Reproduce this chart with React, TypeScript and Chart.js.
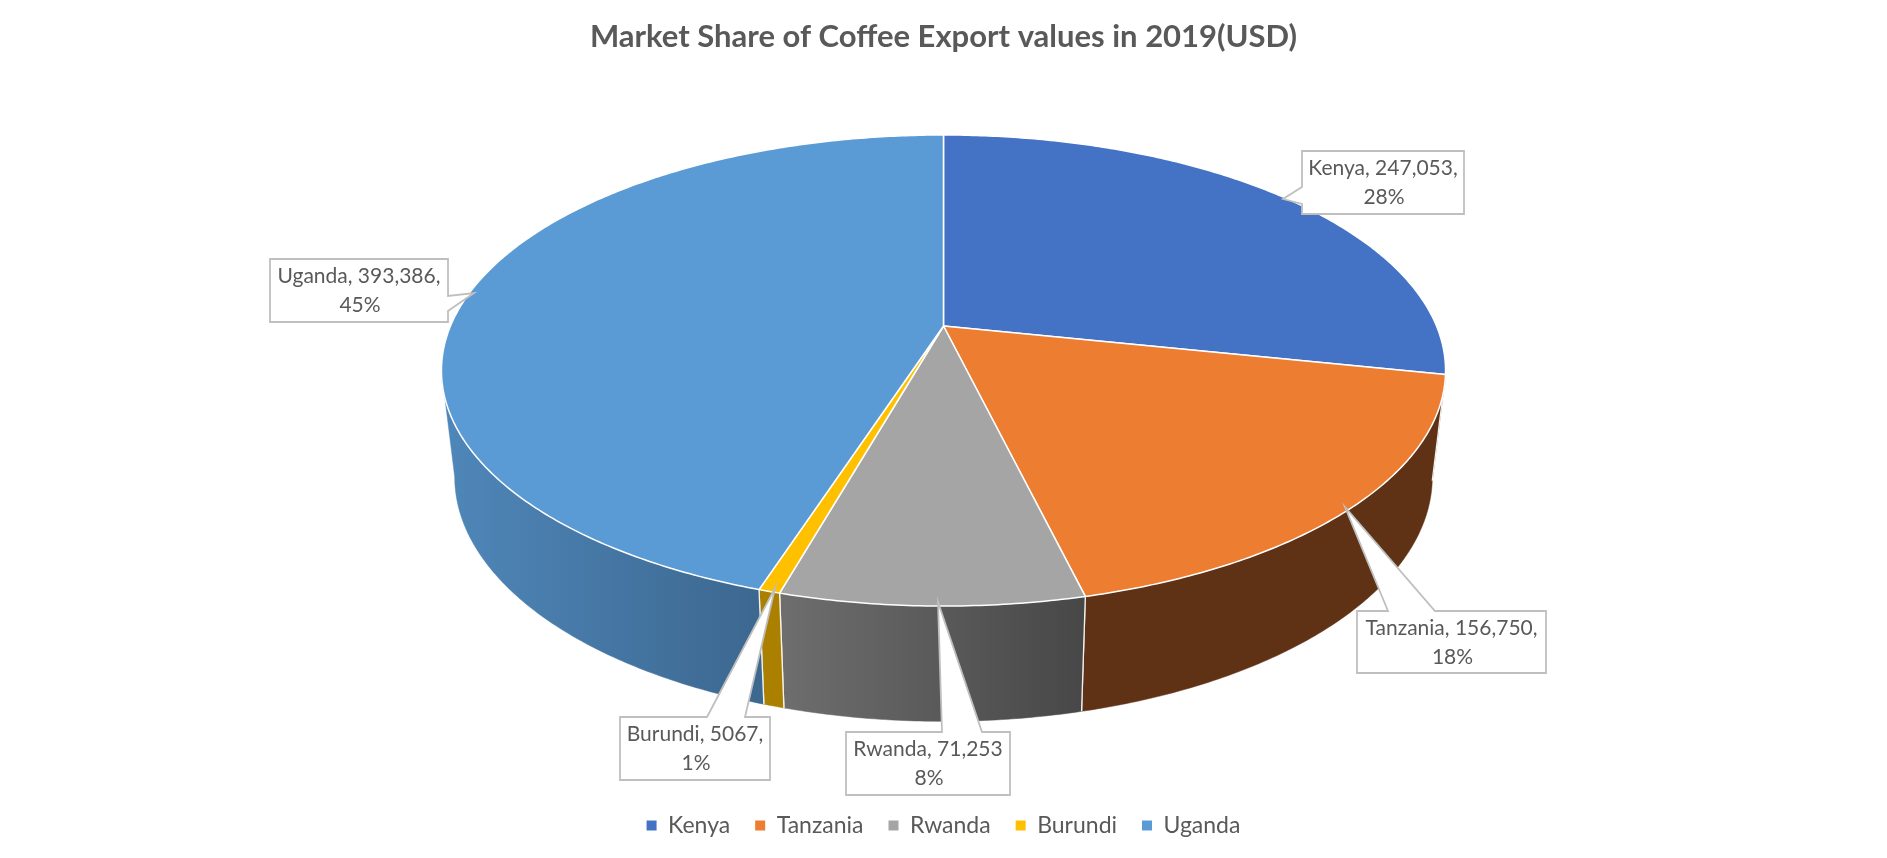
import React, { useEffect, useRef } from "react";
import { Chart, registerables } from "chart.js";

Chart.register(...registerables);

// ---- data ----
const categories = ["Kenya", "Tanzania", "Rwanda", "Burundi", "Uganda"];
const exportValues = [247053, 156750, 71253, 5067, 393386];
const valueTexts = ["247,053,", "156,750,", "71,253", "5067,", "393,386,"];
const chartTitle = "Market Share of Coffee Export values in 2019(USD)";

// ---- styles ----
const topColors = ["#4472C4", "#ED7D31", "#A5A5A5", "#FFC000", "#5B9BD5"];
const wallStops: string[][] = [
  ["#294477", "#294477"],
  ["#5F3115", "#5F3115"],
  ["#6E6E6E", "#474747"],
  ["#AB8000", "#AB8000"],
  ["#4F87BA", "#3C678F"],
];
const FONT = "Lato, Carlito, Calibri, sans-serif";
const TEXT = "#595959";

// perspective of the disc: top face and bottom face of the cylinder
const K = -0.189;
const topFace = { C: 493, A: 165.5, B: 326 };
const bottomFace = { C: 480, A: 154.5, B: 430.5 };
const TANGENT_V = 0.189;

// callout boxes: [x0, y0, x1, y1], pointer tip, and pointer base on one side
type Box = { r: number[]; tip: number[]; side: "l" | "r" | "t"; base: number[] };
const calloutBoxes: Box[] = [
  { r: [1302, 151, 1464, 214], tip: [1283, 199], side: "l", base: [187, 204] },
  { r: [1357, 611, 1546, 673], tip: [1345, 507], side: "t", base: [1388, 1435] },
  { r: [846, 732, 1010, 795], tip: [938, 602], side: "t", base: [942, 982] },
  { r: [620, 717, 770, 780], tip: [775, 588], side: "t", base: [707, 745] },
  { r: [270, 259, 448, 322], tip: [474, 293], side: "r", base: [296, 311] },
];

const project = (cx: number, a: number, f: typeof topFace) => {
  const u = Math.cos(a);
  const v = Math.sin(a);
  const w = 1 + K * v;
  return { x: cx + (f.C * u) / w, y: (f.A * v + f.B) / w };
};

const rim = (cx: number, a0: number, a1: number, f: typeof topFace) => {
  const n = Math.max(2, Math.ceil(Math.abs(a1 - a0) / 0.01));
  const pts = [];
  for (let i = 0; i <= n; i++) pts.push(project(cx, a0 + ((a1 - a0) * i) / n, f));
  return pts;
};

const cylinderPlugin = {
  id: "cylinderPie",
  beforeDatasetsDraw(chart: any) {
    const ctx: CanvasRenderingContext2D = chart.ctx;
    const arcs = chart.getDatasetMeta(0).data;
    const total = exportValues.reduce((s, v) => s + v, 0);
    const frontA0 = Math.asin(TANGENT_V);
    const frontA1 = Math.PI - frontA0;

    ctx.save();
    ctx.lineJoin = "round";

    // walls
    arcs.forEach((arc: any, i: number) => {
      const cx = arc.x;
      let a0 = arc.startAngle;
      let a1 = arc.endAngle;
      const twoPi = Math.PI * 2;
      while (a1 <= frontA0) { a0 += twoPi; a1 += twoPi; }
      const s = Math.max(a0, frontA0);
      const e = Math.min(a1, frontA1);
      if (e <= s) return;
      const t = rim(cx, s, e, topFace);
      const b = rim(cx, e, s, bottomFace);
      const xs = t.concat(b).map((p) => p.x);
      const g = ctx.createLinearGradient(Math.min(...xs), 0, Math.max(...xs), 0);
      g.addColorStop(0, wallStops[i][0]);
      g.addColorStop(1, wallStops[i][1]);
      ctx.beginPath();
      t.concat(b).forEach((p, k) => (k ? ctx.lineTo(p.x, p.y) : ctx.moveTo(p.x, p.y)));
      ctx.closePath();
      ctx.fillStyle = g;
      ctx.fill();
      ctx.strokeStyle = g;
      ctx.lineWidth = 0.5;
      ctx.stroke();
      // vertical edges
      ctx.strokeStyle = "rgba(255,255,255,0.9)";
      ctx.lineWidth = 1.3;
      if (a0 >= frontA0) {
        ctx.beginPath();
        ctx.moveTo(t[0].x, t[0].y);
        ctx.lineTo(b[b.length - 1].x, b[b.length - 1].y);
        ctx.stroke();
      }
      if (a1 <= frontA1) {
        ctx.beginPath();
        ctx.moveTo(t[t.length - 1].x, t[t.length - 1].y);
        ctx.lineTo(b[0].x, b[0].y);
        ctx.stroke();
      }
    });

    // top face
    arcs.forEach((arc: any, i: number) => {
      const pts = rim(arc.x, arc.startAngle, arc.endAngle, topFace);
      ctx.beginPath();
      ctx.moveTo(arc.x, topFace.B);
      pts.forEach((p) => ctx.lineTo(p.x, p.y));
      ctx.closePath();
      ctx.fillStyle = topColors[i];
      ctx.fill();
      ctx.strokeStyle = "#FFFFFF";
      ctx.lineWidth = 1.5;
      ctx.stroke();
    });

    // callouts
    arcs.forEach((_: any, i: number) => {
      const { r, tip, side, base } = calloutBoxes[i];
      const [x0, y0, x1, y1] = r;
      ctx.beginPath();
      ctx.moveTo(x0, y0);
      if (side === "t") {
        ctx.lineTo(base[0], y0);
        ctx.lineTo(tip[0], tip[1]);
        ctx.lineTo(base[1], y0);
      }
      ctx.lineTo(x1, y0);
      if (side === "r") {
        ctx.lineTo(x1, base[0]);
        ctx.lineTo(tip[0], tip[1]);
        ctx.lineTo(x1, base[1]);
      }
      ctx.lineTo(x1, y1);
      ctx.lineTo(x0, y1);
      if (side === "l") {
        ctx.lineTo(x0, base[1]);
        ctx.lineTo(tip[0], tip[1]);
        ctx.lineTo(x0, base[0]);
      }
      ctx.closePath();
      ctx.fillStyle = "#FFFFFF";
      ctx.fill();
      ctx.strokeStyle = "#BFBFBF";
      ctx.lineWidth = 1.8;
      ctx.lineJoin = "miter";
      ctx.stroke();

      const pct = Math.round((exportValues[i] / total) * 100) + "%";
      ctx.fillStyle = TEXT;
      ctx.font = `21px ${FONT}`;
      ctx.textAlign = "center";
      ctx.textBaseline = "middle";
      const mx = (x0 + x1) / 2;
      const my = (y0 + y1) / 2;
      ctx.fillText(`${categories[i]}, ${valueTexts[i]}`, mx, my - 14);
      ctx.fillText(pct, mx + 1, my + 15);
    });
    ctx.restore();
    return false;
  },
};

export default function App() {
  const ref = useRef<HTMLCanvasElement>(null);
  useEffect(() => {
    const chart = new Chart(ref.current as HTMLCanvasElement, {
      type: "pie",
      data: {
        labels: categories,
        datasets: [{ data: exportValues, backgroundColor: topColors, borderWidth: 0 }],
      },
      options: {
        responsive: false,
        animation: false,
        events: [],
        layout: { padding: { bottom: 11 } },
        plugins: {
          tooltip: { enabled: false },
          title: {
            display: true,
            text: chartTitle,
            color: TEXT,
            font: { family: FONT, size: 31, weight: "bold" },
            padding: { top: 18, bottom: 10 },
          },
          legend: {
            position: "bottom",
            labels: {
              color: TEXT,
              boxWidth: 10,
              boxHeight: 10,
              padding: 25,
              font: { family: FONT, size: 23 },
            },
          },
        },
      },
      plugins: [cylinderPlugin],
    } as any);
    return () => chart.destroy();
  }, []);
  return (
    <div style={{ position: "fixed", left: 0, top: 0, width: 1887, height: 858, background: "#fff", overflow: "hidden" }}>
      <canvas ref={ref} width={1887} height={858} style={{ display: "block" }} />
    </div>
  );
}
